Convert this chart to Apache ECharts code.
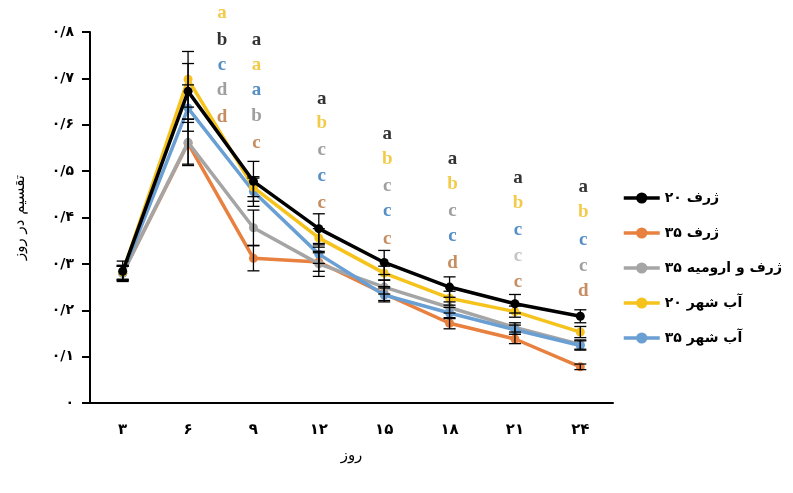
<!DOCTYPE html>
<html><head><meta charset="utf-8">
<script src="https://cdn.jsdelivr.net/npm/echarts@6/dist/echarts.min.js"></script>
<style>html,body{margin:0;padding:0;background:#fff}#c{width:793px;height:493px}</style>
</head><body><div id="c"></div>
<script>
const categories = ['۳','۶','۹','۱۲','۱۵','۱۸','۲۱','۲۴'];
const yTickLabels = ['۰','۰/۱','۰/۲','۰/۳','۰/۴','۰/۵','۰/۶','۰/۷','۰/۸'];
const seriesNames = ['ژرف ۲۰','ژرف ۳۵','ژرف و ارومیه ۳۵','آب شهر ۲۰','آب شهر ۳۵'];
const zharf20   = [0.284, 0.672, 0.478, 0.376, 0.303, 0.250, 0.214, 0.187];
const zharf35   = [0.280, 0.560, 0.312, 0.304, 0.236, 0.172, 0.138, 0.078];
const urmia35   = [0.280, 0.562, 0.378, 0.300, 0.250, 0.206, 0.163, 0.126];
const abshahr20 = [0.282, 0.698, 0.465, 0.356, 0.280, 0.226, 0.197, 0.153];
const abshahr35 = [0.280, 0.636, 0.456, 0.321, 0.233, 0.194, 0.158, 0.124];
const errZharf20   = [0.022, 0.060, 0.043, 0.032, 0.026, 0.022, 0.020, 0.014];
const errZharf35   = [0.015, 0.045, 0.027, 0.020, 0.015, 0.012, 0.010, 0.006];
const errUrmia35   = [0.015, 0.050, 0.038, 0.027, 0.015, 0.012, 0.010, 0.010];
const errAbshahr20 = [0.015, 0.060, 0.020, 0.020, 0.015, 0.015, 0.012, 0.012];
const errAbshahr35 = [0.015, 0.050, 0.032, 0.020, 0.015, 0.012, 0.010, 0.010];
// significance letters: column category index, letters, colour keys, y positions (value units)
const letterCols = [1, 2, 3, 4, 5, 6, 7];
const letterText = [
  ['a','b','c','d','d'],
  ['a','a','a','b','c'],
  ['a','b','c','c','c'],
  ['a','b','c','c','c'],
  ['a','b','c','c','d'],
  ['a','b','c','c','c'],
  ['a','b','c','c','d']
];
const letterColorKeys = [
  ['yellow','black','blue','gray','orange'],
  ['black','yellow','blue','gray','orange'],
  ['black','yellow','gray','blue','orange'],
  ['black','yellow','gray','blue','orange'],
  ['black','yellow','gray','blue','orange'],
  ['black','yellow','blue','lgray','orange'],
  ['black','yellow','blue','gray','orange']
];
const letterY = [
  [0.840, 0.783, 0.729, 0.674, 0.617],
  [0.783, 0.729, 0.674, 0.618, 0.560],
  [0.656, 0.603, 0.545, 0.489, 0.431],
  [0.580, 0.526, 0.468, 0.413, 0.354],
  [0.526, 0.473, 0.413, 0.359, 0.302],
  [0.485, 0.432, 0.373, 0.316, 0.260],
  [0.466, 0.411, 0.352, 0.296, 0.242]
];
const letterColors = {black:'#000000', yellow:'#F0BE1E', blue:'#2A72B5', gray:'#878787', lgray:'#B5B5B5', orange:'#B8703A'};
const lineColors = ['#000000', '#E8803F', '#A5A5A5', '#F5C31C', '#6A9FD3'];

const values = [zharf20, zharf35, urmia35, abshahr20, abshahr35];
const errors = [errZharf20, errZharf35, errUrmia35, errAbshahr20, errAbshahr35];

const chart = echarts.init(document.getElementById('c'), null, {renderer:'canvas'});
const series = [];
const zOrder = [6, 2, 3, 5, 4];
values.forEach((v, i) => {
  series.push({
    name: seriesNames[i], type: 'line', data: v,
    symbol: 'circle', symbolSize: 9, z: zOrder[i],
    lineStyle: {width: 3.5, color: lineColors[i]},
    itemStyle: {color: lineColors[i]},
    emphasis: {disabled: true}, animation: false
  });
});
const errData = [];
values.forEach((v, i) => v.forEach((y, j) => errData.push([j, y - errors[i][j], y + errors[i][j]])));
series.push({
  type: 'custom', z: 10, animation: false, silent: true,
  data: errData,
  renderItem: function (params, api) {
    const x = api.value(0);
    const lo = api.coord([x, api.value(1)]);
    const hi = api.coord([x, api.value(2)]);
    const w = 6;
    const st = {stroke: '#000', lineWidth: 1.3};
    return {type: 'group', children: [
      {type: 'line', shape: {x1: lo[0], y1: lo[1], x2: hi[0], y2: hi[1]}, style: st},
      {type: 'line', shape: {x1: lo[0]-w, y1: lo[1], x2: lo[0]+w, y2: lo[1]}, style: st},
      {type: 'line', shape: {x1: hi[0]-w, y1: hi[1], x2: hi[0]+w, y2: hi[1]}, style: st}
    ]};
  }
});
const letterData = [];
letterCols.forEach((c, k) => {
  letterText[k].forEach((t, m) => {
    letterData.push({
      value: [c, letterY[k][m]],
      label: {formatter: t, color: letterColors[letterColorKeys[k][m]], offset: [c === 1 ? 34 : 3, 0]}
    });
  });
});
series.push({
  type: 'scatter', data: letterData, symbolSize: 0, clip: false, silent: true, animation: false, z: 20,
  label: {show: true, position: 'inside', fontFamily: 'Liberation Serif', fontWeight: 'bold', fontSize: 19}
});

chart.setOption({
  backgroundColor: '#ffffff',
  animation: false,
  grid: {left: 90, right: 180, top: 32, bottom: 90},
  legend: {
    orient: 'vertical', left: 617, top: 186, itemGap: 21, itemWidth: 36, itemHeight: 14,
    data: seriesNames,
    lineStyle: {width: 3.5},
    textStyle: {fontFamily: 'DejaVu Sans', fontWeight: 'bold', fontSize: 14, color: '#000'}
  },
  xAxis: {
    type: 'category', data: categories, boundaryGap: true,
    name: 'روز', nameLocation: 'middle', nameGap: 46,
    nameTextStyle: {fontFamily: 'DejaVu Sans', fontSize: 15, color: '#000'},
    axisLine: {lineStyle: {color: '#000', width: 2}},
    axisTick: {alignWithLabel: true, inside: true, length: 4, lineStyle: {color: '#000', width: 2}},
    axisLabel: {fontFamily: 'DejaVu Sans', fontWeight: 'bold', fontSize: 15, color: '#000', margin: 20},
    splitLine: {show: false}
  },
  yAxis: {
    type: 'value', min: 0, max: 0.8, interval: 0.1,
    name: 'تقسیم در روز', nameLocation: 'middle', nameGap: 62, nameRotate: 90,
    nameTextStyle: {fontFamily: 'DejaVu Sans', fontSize: 15, color: '#000'},
    axisLine: {show: true, lineStyle: {color: '#000', width: 2}},
    axisTick: {show: true, length: 8, lineStyle: {color: '#000', width: 2}},
    axisLabel: {fontFamily: 'DejaVu Sans', fontWeight: 'bold', fontSize: 14, color: '#000', margin: 16,
      formatter: function (v) { return yTickLabels[Math.round(v * 10)]; }},
    splitLine: {show: false}
  },
  series: series
});
</script></body></html>
